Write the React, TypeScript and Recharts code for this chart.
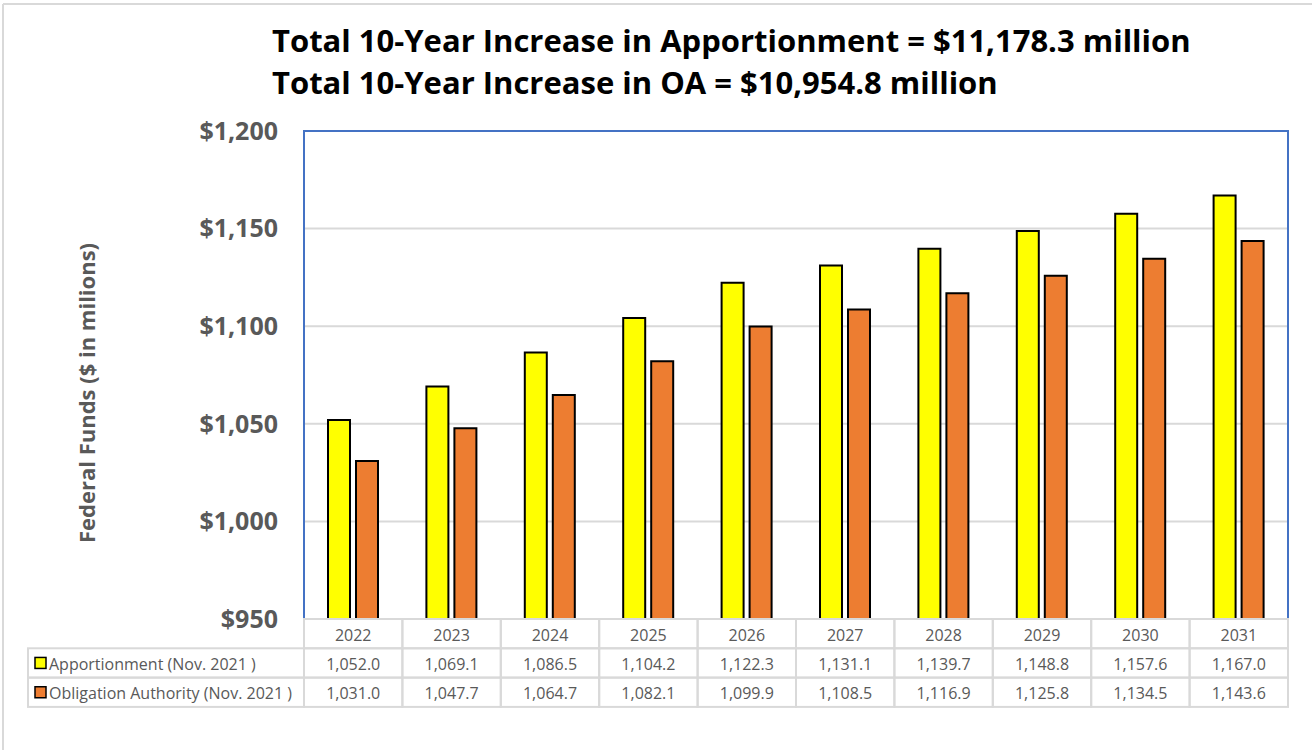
import { BarChart, Bar, XAxis, YAxis, CartesianGrid, ReferenceArea } from 'recharts';

// values
const years = ['2022', '2023', '2024', '2025', '2026', '2027', '2028', '2029', '2030', '2031'];
const apportionment = [1052.0, 1069.1, 1086.5, 1104.2, 1122.3, 1131.1, 1139.7, 1148.8, 1157.6, 1167.0];
const obligationAuthority = [1031.0, 1047.7, 1064.7, 1082.1, 1099.9, 1108.5, 1116.9, 1125.8, 1134.5, 1143.6];
const seriesNames = ['Apportionment (Nov. 2021 )', 'Obligation Authority (Nov. 2021 )'];
const seriesColors = ['#FFFF00', '#ED7D31'];
const yTicks = [950, 1000, 1050, 1100, 1150, 1200];
const titleLines = [
  'Total 10-Year Increase in Apportionment = $11,178.3 million',
  'Total 10-Year Increase in OA = $10,954.8 million',
];
const yAxisTitle = 'Federal Funds ($ in milions)';

const data = years.map((year, i) => ({
  year,
  apportionment: apportionment[i],
  oa: obligationAuthority[i],
}));

const W = 1312;
const H = 750;
const PLOT_LEFT = 304;
const PLOT_RIGHT = 1288;
const PLOT_TOP = 131;
const PLOT_BOTTOM = 619;
const ROW_H = 29.3;
const FONT = '"Open Sans", "Noto Sans", sans-serif';
const GRAY = '#595959';
const LINE = '#d9d9d9';

const fmt = (v: number) =>
  v.toLocaleString('en-US', { minimumFractionDigits: 1, maximumFractionDigits: 1 });

const money = (v: number) => '$' + v.toLocaleString('en-US');

// each x tick draws its own column of the data table
function TableTick(props: any) {
  const { x, y, payload } = props;
  const i = years.indexOf(payload.value);
  const colW = (PLOT_RIGHT - PLOT_LEFT) / years.length;
  const cells = [payload.value, fmt(apportionment[i]), fmt(obligationAuthority[i])];
  return (
    <g>
      {cells.map((t, r) => (
        <g key={r}>
          <rect
            x={x - colW / 2}
            y={y + r * ROW_H}
            width={colW}
            height={ROW_H}
            fill="none"
            stroke={LINE}
            strokeWidth={2}
          />
          <text
            x={x}
            y={y + r * ROW_H + ROW_H / 2 + 1}
            textAnchor="middle"
            dominantBaseline="central"
            fontFamily={FONT}
            fontSize={16}
            fill={GRAY}
          >
            {t}
          </text>
        </g>
      ))}
    </g>
  );
}

export default function App() {
  const legendLeft = 28;
  return (
    <div style={{ position: 'absolute', left: 0, top: 0, width: W, height: H, background: '#fff' }}>
      <BarChart
        width={W}
        height={H}
        data={data}
        margin={{ top: PLOT_TOP, right: W - PLOT_RIGHT, bottom: 0, left: PLOT_LEFT - 80 }}
        barSize={22}
        barGap={6}
      >
        <CartesianGrid vertical={false} stroke={LINE} strokeWidth={2} />
        <XAxis
          dataKey="year"
          height={H - PLOT_BOTTOM}
          axisLine={false}
          tickLine={false}
          tickSize={0}
          tickMargin={0}
          interval={0}
          tick={<TableTick />}
        />
        <YAxis
          width={80}
          domain={[950, 1200]}
          ticks={yTicks}
          axisLine={false}
          tickLine={false}
          tickSize={0}
          tickMargin={26}
          tickFormatter={money}
          tick={{ fontFamily: FONT, fontSize: 25, fontWeight: 700, fill: GRAY }}
        />
        <Bar
          dataKey="apportionment"
          name={seriesNames[0]}
          fill={seriesColors[0]}
          stroke="#000"
          strokeWidth={2}
          isAnimationActive={false}
        />
        <Bar
          dataKey="oa"
          name={seriesNames[1]}
          fill={seriesColors[1]}
          stroke="#000"
          strokeWidth={2}
          isAnimationActive={false}
        />
        <ReferenceArea y1={950} y2={1200} fill="none" stroke="#4472C4" strokeWidth={2} />
      </BarChart>

      <svg
        width={W}
        height={H}
        style={{ position: 'absolute', left: 0, top: 0, pointerEvents: 'none' }}
      >
        {/* outer chart frame, cut off at right and bottom */}
        <line x1={3} y1={4} x2={W} y2={4} stroke={LINE} strokeWidth={2} />
        <line x1={3} y1={4} x2={3} y2={H} stroke={LINE} strokeWidth={2} />

        {titleLines.map((t, i) => (
          <text
            key={i}
            x={272}
            y={52 + i * 42}
            fontFamily={FONT}
            fontSize={31}
            fontWeight={700}
            fill="#000"
          >
            {t}
          </text>
        ))}

        <text
          transform={`translate(95, 393) rotate(-90)`}
          textAnchor="middle"
          fontFamily={FONT}
          fontSize={22}
          fontWeight={700}
          fill={GRAY}
        >
          {yAxisTitle}
        </text>

        {/* legend keys of the data table */}
        {seriesNames.map((name, i) => {
          const top = PLOT_BOTTOM + ROW_H * (i + 1);
          return (
            <g key={name}>
              <rect
                x={legendLeft}
                y={top}
                width={PLOT_LEFT - legendLeft}
                height={ROW_H}
                fill="none"
                stroke={LINE}
                strokeWidth={2}
              />
              <rect
                x={35}
                y={top + ROW_H / 2 - 5.5}
                width={11}
                height={11}
                fill={seriesColors[i]}
                stroke="#000"
                strokeWidth={1.5}
              />
              <text
                x={49}
                y={top + ROW_H / 2 + 1}
                dominantBaseline="central"
                fontFamily={FONT}
                fontSize={16}
                fill={GRAY}
              >
                {name}
              </text>
            </g>
          );
        })}
      </svg>
    </div>
  );
}
